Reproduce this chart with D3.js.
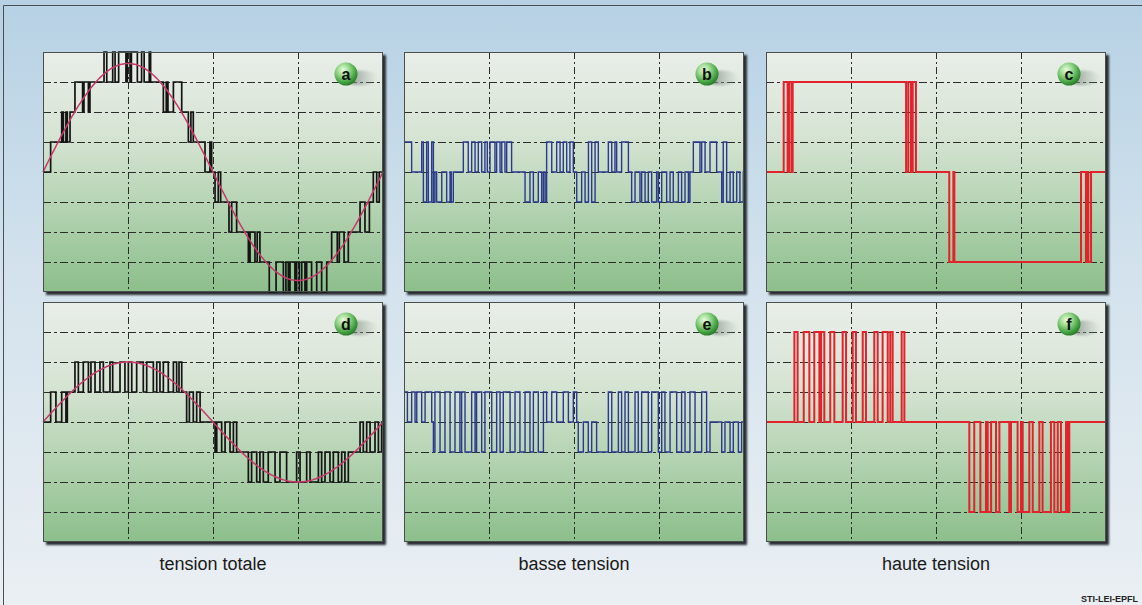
<!DOCTYPE html>
<html>
<head>
<meta charset="utf-8">
<script src="https://cdn.jsdelivr.net/npm/d3@7"></script>
<style>
  html, body { margin: 0; padding: 0; background: #ffffff; }
  svg { display: block; }
</style>
</head>
<body>
<svg id="chart" width="1142" height="605"></svg>
<script>
// Time axis of one mains period (ms) and the grid it is divided into
const periodMs = [0, 20];
const gridTimes = [5, 10, 15];
const levelRange = [-4, 4];
const gridLevels = [-3, -2, -1, 0, 1, 2, 3];

// Column captions and panel letters
const columnCaptions = ["tension totale", "basse tension", "haute tension"];
const panelLetters = ["a", "b", "c", "d", "e", "f"];
const creditText = "STI-LEI-EPFL";

// Reference sine amplitude (in voltage levels) for each row
const sineAmplitudes = [3.62, 2.0];

// Step waveforms: [time ms, level held from that time on]
const totalA = [
  [0,0],[0.45,1],[1.10,2],[1.20,1],[1.35,2],[1.43,1],[1.59,2],
  [1.88,3],[2.33,2],[2.41,3],[2.67,2],[2.76,3],
  [3.59,4],[3.75,3],[4.10,4],[4.24,3],[4.45,4],[4.88,3],[4.96,4],[5.12,3],[5.20,4],[5.55,3],[5.80,4],[5.95,3],[6.25,4],[6.33,3],
  [7.08,2],[7.25,3],[7.35,2],[7.67,3],[8.16,2],
  [8.55,1],[8.70,2],[8.84,1],
  [9.53,0],[9.82,1],[9.92,0],
  [10.12,-1],[10.31,0],[10.45,-1],
  [10.94,-2],[11.10,-1],[11.39,-2],
  [12.08,-3],[12.18,-2],[12.47,-3],[12.60,-2],[12.76,-3],
  [13.31,-4],[13.71,-3],[14.14,-4],[14.29,-3],[14.43,-4],[14.53,-3],[14.82,-4],[14.92,-3],[15.08,-4],[15.22,-3],[15.41,-4],[15.51,-3],[15.80,-4],[16.10,-3],[16.39,-4],[16.69,-3],
  [16.98,-2],[17.31,-3],[17.43,-2],[17.71,-3],[17.96,-2],
  [18.65,-1],[18.94,-2],[19.20,-1],
  [19.43,0],[19.63,-1],[19.78,0]
];
const lowB = [
  [0,1],[0.45,0],[1.04,1],[1.14,-1],[1.33,1],[1.43,-1],[1.63,1],[1.73,-1],[1.82,0],[1.92,-1],[2.22,0],[2.51,-1],[2.71,0],[2.78,-1],[2.90,0],
  [3.49,1],[3.78,0],[3.98,1],[4.18,0],[4.37,1],[4.57,0],[4.76,1],[4.90,0],[5.06,1],[5.35,0],[5.45,1],[5.65,0],[5.75,1],[5.94,0],[6.04,1],[6.33,0],
  [7.12,-1],[7.41,0],[7.61,-1],[7.90,0],[8.10,-1],[8.20,0],[8.30,-1],
  [8.39,1],[8.69,0],[8.98,1],[9.18,0],[9.37,1],[9.57,0],[9.76,1],[9.96,0],
  [10.16,-1],[10.45,0],[10.65,-1],[10.85,1],[11.04,-1],[11.24,1],[11.43,0],
  [12.02,1],[12.22,0],[12.41,1],[12.51,0],[12.80,1],[13.20,0],
  [13.39,-1],[13.59,0],[13.88,-1],[13.98,0],[14.18,-1],[14.37,0],[14.57,-1],[14.86,0],[14.96,-1],[15.16,0],[15.45,-1],[15.65,0],[15.84,-1],[16.14,0],[16.33,-1],[16.53,0],[16.73,-1],[16.82,0],
  [17.02,1],[17.41,0],[17.51,1],[17.71,0],[18.00,1],[18.39,0],
  [18.69,-1],[18.78,1],[18.98,-1],[19.18,0],[19.37,-1],[19.57,0],[19.76,-1],[19.96,0]
];
const highC = [
  [0,0],[1.04,3],[1.27,0],[1.37,3],[1.51,0],[1.57,3],
  [8.24,0],[8.37,3],[8.53,0],[8.63,3],[8.82,0],
  [10.78,-3],[11.02,0],[11.08,-3],
  [18.53,0],[18.82,-3],[18.92,0],[18.96,-3],[19.12,0]
];
const totalD = [
  [0,0],[0.45,1],[0.76,0],[1.10,1],[1.35,0],[1.43,1],
  [1.88,2],[2.08,1],[2.37,2],[2.67,1],[2.82,2],[3.06,1],[3.35,2],[3.55,1],[3.94,2],[4.10,1],[4.53,2],[4.82,1],[5.02,2],[5.22,1],[5.51,2],[5.90,1],[6.10,2],[6.49,1],[6.69,2],[6.88,1],[7.08,2],[7.37,1],[7.67,2],[7.86,1],[8.00,2],[8.16,1],
  [8.45,0],[8.61,1],[8.84,0],[9.04,1],[9.24,0],
  [10.12,-1],[10.22,0],[10.51,-1],[10.71,0],[11.00,-1],[11.20,0],[11.39,-1],
  [12.08,-2],[12.27,-1],[12.57,-2],[12.76,-1],[12.96,-2],[13.25,-1],[13.65,-2],[13.94,-1],[14.33,-2],[14.92,-1],[15.12,-2],[15.51,-1],[15.71,-2],[16.20,-1],[16.39,-2],[16.59,-1],[16.88,-2],[17.08,-1],[17.37,-2],[17.57,-1],[17.76,-2],[17.96,-1],
  [18.65,0],[18.84,-1],[19.04,0],[19.24,-1],[19.53,0],[19.73,-1],[19.92,0]
];
const lowE = [
  [0,1],[0.20,0],[0.45,1],[0.65,0],[0.75,1],[1.04,0],[1.24,1],[1.63,0],
  [1.73,-1],[1.82,1],[2.12,-1],[2.41,1],[2.71,-1],[3.00,1],[3.29,-1],[3.39,1],[3.59,-1],[3.98,1],[4.18,-1],[4.27,1],[4.57,-1],[4.76,1],[5.16,-1],[5.45,1],[5.65,-1],[5.84,1],[6.24,-1],[6.53,1],[6.82,-1],[7.12,1],[7.41,-1],[7.61,1],[7.90,-1],[8.20,1],
  [8.39,0],[8.69,1],[8.98,0],[9.37,1],[9.67,0],[9.96,1],[10.16,0],
  [10.25,-1],[10.55,0],[10.84,-1],[11.04,0],[11.33,-1],
  [12.02,1],[12.22,-1],[12.61,1],[12.80,-1],[13.00,1],[13.20,-1],[13.59,1],[13.78,-1],[13.98,1],[14.37,-1],[14.57,1],[14.96,-1],[15.16,1],[15.35,-1],[15.65,1],[16.04,-1],[16.33,1],[16.53,-1],[16.82,1],[17.12,-1],[17.51,1],[17.80,-1],[18.00,0],
  [18.69,-1],[18.88,0],[19.18,-1],[19.37,0],[19.67,-1],[19.86,0]
];
const highF = [
  [0,0],
  [1.67,3],[1.86,0],[2.22,3],[2.55,0],[2.84,3],[3.14,0],[3.24,3],[3.43,0],[3.78,3],[4.02,0],[4.51,3],[4.71,0],[5.10,3],[5.29,0],[5.69,3],[5.88,0],[6.37,3],[6.57,0],[6.86,3],[7.16,0],[7.31,3],[7.45,0],[7.98,3],[8.14,0],
  [11.96,-3],[12.25,0],[12.61,-3],[12.94,0],[13.04,-3],[13.24,0],[13.53,-3],[13.73,0],[14.31,-3],[14.41,0],[14.80,-3],[15.00,0],[15.10,-3],[15.49,0],[15.69,-3],[16.08,0],[16.27,-3],[16.76,0],[16.96,-3],[17.16,0],[17.35,-3],[17.65,0],[17.75,-3],[17.84,0]
];

const waveforms = [totalA, lowB, highC, totalD, lowE, highF];

// ---------- layout ----------
const W = 1142, H = 605;
const panelW = 340, panelH = 240;
const colX = [43, 404, 766];
const rowY = [52, 302];

const svg = d3.select("#chart");
const defs = svg.append("defs");

// page background: pale blue fading down
const bg = defs.append("linearGradient").attr("id", "pageBg").attr("x1", 0).attr("y1", 0).attr("x2", 0).attr("y2", 1);
bg.append("stop").attr("offset", "0%").attr("stop-color", "#b6d1e4");
bg.append("stop").attr("offset", "45%").attr("stop-color", "#d3e2ed");
bg.append("stop").attr("offset", "100%").attr("stop-color", "#eaeff3");

// panel fill: grey-white top to soft green bottom
const pg = defs.append("linearGradient").attr("id", "panelBg").attr("x1", 0).attr("y1", 0).attr("x2", 0).attr("y2", 1);
pg.append("stop").attr("offset", "0%").attr("stop-color", "#e9eee9");
pg.append("stop").attr("offset", "35%").attr("stop-color", "#d6e4d3");
pg.append("stop").attr("offset", "100%").attr("stop-color", "#8cbf8b");

// green bead for the panel letters
const bead = defs.append("radialGradient").attr("id", "bead").attr("cx", "38%").attr("cy", "32%").attr("r", "70%");
bead.append("stop").attr("offset", "0%").attr("stop-color", "#e9fbe4");
bead.append("stop").attr("offset", "35%").attr("stop-color", "#9fdc94");
bead.append("stop").attr("offset", "80%").attr("stop-color", "#3f9e3d");
bead.append("stop").attr("offset", "100%").attr("stop-color", "#2b7a2c");

const beadShadow = defs.append("linearGradient").attr("id", "beadShadow").attr("x1", 0).attr("y1", 0).attr("x2", 1).attr("y2", 0);
beadShadow.append("stop").attr("offset", "0%").attr("stop-color", "#6f7d72").attr("stop-opacity", 0.9);
beadShadow.append("stop").attr("offset", "100%").attr("stop-color", "#9aa89c").attr("stop-opacity", 0);

const blur = defs.append("filter").attr("id", "soft").attr("x", "-20%").attr("y", "-20%").attr("width", "140%").attr("height", "140%");
blur.append("feGaussianBlur").attr("stdDeviation", 1.2);

svg.append("rect").attr("width", W).attr("height", H).attr("fill", "url(#pageBg)");
// outer frame line
svg.append("path").attr("d", `M3.5,${H} V5.5 H${W}`).attr("fill", "none").attr("stroke", "#4a4f55").attr("stroke-width", 1);

// ---------- scales ----------
const x = d3.scaleLinear().domain(periodMs).range([0, panelW]);
const y = d3.scaleLinear().domain(levelRange).range([panelH, 0]);

const stepLine = d3.line()
  .x(d => x(d[0]))
  .y(d => y(d[1]))
  .curve(d3.curveStepAfter);

const sineLine = d3.line().x(d => x(d[0])).y(d => y(d[1])).curve(d3.curveBasis);

const colStyle = [
  { stroke: "#141414", width: 1.7 },
  { stroke: "#2b3a8f", width: 1.4 },
  { stroke: "#e2232c", width: 2.0 }
];

waveforms.forEach((wave, i) => {
  const col = i % 3, row = Math.floor(i / 3);
  const g = svg.append("g").attr("transform", `translate(${colX[col]},${rowY[row]})`);

  // drop shadow
  g.append("rect").attr("x", 3).attr("y", 3).attr("width", panelW).attr("height", panelH)
    .attr("fill", "#2a2e31").attr("filter", "url(#soft)");
  g.append("rect").attr("width", panelW).attr("height", panelH)
    .attr("fill", "url(#panelBg)");

  // dashed grid
  g.append("g").selectAll("line.h").data(gridLevels).join("line")
    .attr("x1", 0).attr("x2", panelW)
    .attr("y1", d => Math.round(y(d)) + 0.5).attr("y2", d => Math.round(y(d)) + 0.5)
    .attr("stroke", "#2a2d2a").attr("stroke-width", 1).attr("stroke-dasharray", "8,3,3,3");
  g.append("g").selectAll("line.v").data(gridTimes).join("line")
    .attr("y1", 0).attr("y2", panelH)
    .attr("x1", d => Math.round(x(d)) + 0.5).attr("x2", d => Math.round(x(d)) + 0.5)
    .attr("stroke", "#2a2d2a").attr("stroke-width", 1).attr("stroke-dasharray", "7,3,2,3");

  // step waveform
  const pts = wave.concat([[periodMs[1], wave[wave.length - 1][1]]]);
  g.append("path").datum(pts).attr("d", stepLine)
    .attr("fill", "none")
    .attr("stroke", colStyle[col].stroke)
    .attr("stroke-width", colStyle[col].width)
    .attr("stroke-linejoin", "miter");

  // reference sine on the total-voltage panels
  if (col === 0) {
    const amp = sineAmplitudes[row];
    const samples = d3.range(0, 20.001, 0.1).map(t => [t, amp * Math.sin(2 * Math.PI * t / periodMs[1])]);
    g.append("path").datum(samples).attr("d", sineLine)
      .attr("fill", "none").attr("stroke", "#c63a6b").attr("stroke-width", 1.5);
  }

  // panel border
  g.append("rect").attr("x", 0.5).attr("y", 0.5).attr("width", panelW - 1).attr("height", panelH - 1)
    .attr("fill", "none").attr("stroke", "#4b4f4b").attr("stroke-width", 1);

  // letter bead
  const bx = panelW - 37, by = 22;
  g.append("ellipse").attr("cx", bx + 15).attr("cy", by + 4).attr("rx", 17).attr("ry", 7.5)
    .attr("fill", "url(#beadShadow)").attr("filter", "url(#soft)");
  g.append("circle").attr("cx", bx).attr("cy", by).attr("r", 11.5).attr("fill", "url(#bead)");
  g.append("text").attr("x", bx).attr("y", by + 5.5).attr("text-anchor", "middle")
    .attr("font-family", "Liberation Sans, Arial, sans-serif").attr("font-weight", "bold")
    .attr("font-size", 16).attr("fill", "#111").text(panelLetters[i]);
});

// captions under each column
svg.append("g").selectAll("text").data(columnCaptions).join("text")
  .attr("x", (d, i) => colX[i] + panelW / 2).attr("y", 570)
  .attr("text-anchor", "middle")
  .attr("font-family", "Liberation Sans, Arial, sans-serif")
  .attr("font-size", 18).attr("fill", "#1a1a1a")
  .text(d => d);

svg.append("text").attr("x", 1138).attr("y", 602).attr("text-anchor", "end")
  .attr("font-family", "Liberation Sans Narrow, Liberation Sans, Arial, sans-serif")
  .attr("font-weight", "bold").attr("font-size", 9).attr("fill", "#222")
  .text(creditText);
</script>
</body>
</html>
